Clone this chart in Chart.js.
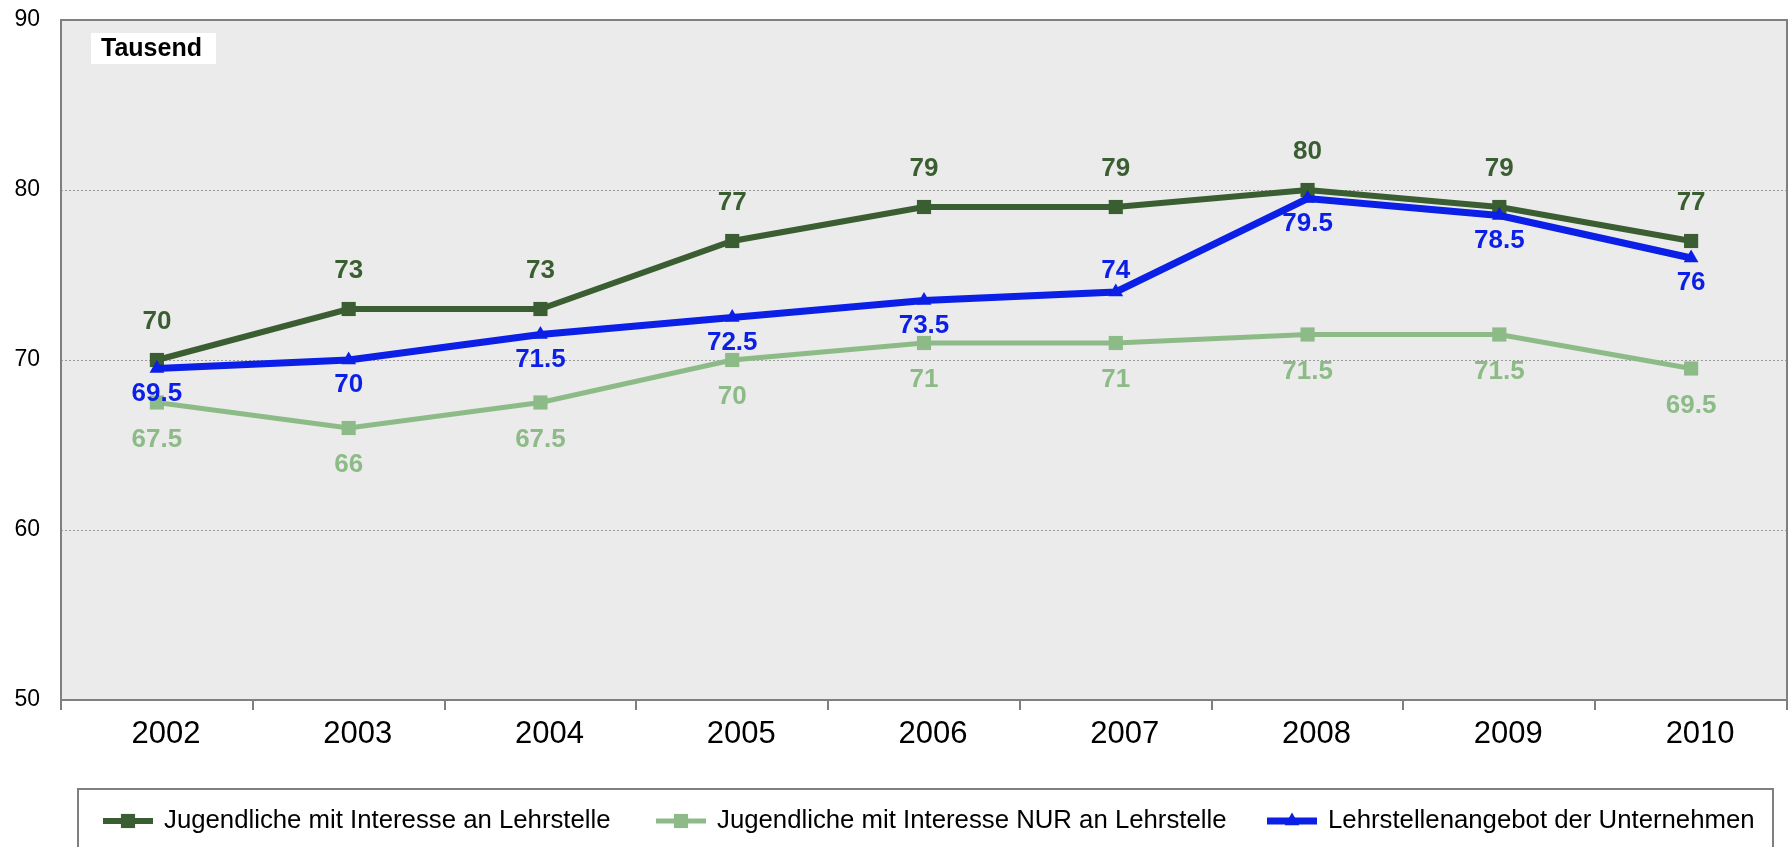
<!DOCTYPE html>
<html>
<head>
<meta charset="utf-8">
<script src="https://cdn.jsdelivr.net/npm/chart.js@4/dist/chart.umd.min.js"></script>
<style>
  html, body { margin: 0; padding: 0; background: #fff; }
  canvas { display: block; }
</style>
</head>
<body>
<canvas id="grafico" width="1790" height="847"></canvas>
<script>
const jahre = ['2002', '2003', '2004', '2005', '2006', '2007', '2008', '2009', '2010'];
const interesse = [70, 73, 73, 77, 79, 79, 80, 79, 77];
const nurLehrstelle = [67.5, 66, 67.5, 70, 71, 71, 71.5, 71.5, 69.5];
const angebot = [69.5, 70, 71.5, 72.5, 73.5, 74, 79.5, 78.5, 76];
const yTicks = [50, 60, 70, 80, 90];

const DUNKEL = '#3a5e32';
const HELL = '#8dbb87';
const BLAU = '#0b1fe6';
const FONT = "'Liberation Sans', Arial, sans-serif";

// hintergrund + rahmen vom plotbereich
const sfondo = {
    id: 'sfondo',
    beforeDraw(chart) {
        const { ctx, chartArea: a } = chart;
        ctx.save();
        ctx.fillStyle = '#ebebeb';
        ctx.fillRect(a.left, a.top, a.right - a.left, a.bottom - a.top);
        ctx.restore();
    },
    beforeDatasetsDraw(chart) {
        const { ctx, chartArea: a } = chart;
        ctx.save();
        ctx.strokeStyle = '#7f7f7f';
        ctx.lineWidth = 2;
        ctx.strokeRect(a.left, a.top, a.right - a.left, a.bottom - a.top);
        // Tausend
        ctx.fillStyle = '#ffffff';
        ctx.fillRect(a.left + 30, a.top + 13, 125, 31);
        ctx.fillStyle = '#000';
        ctx.font = 'bold 25px ' + FONT;
        ctx.textBaseline = 'middle';
        ctx.fillText('Tausend', a.left + 40, a.top + 29);
        ctx.restore();
    }
};

// werte an den punkten
const etichette = {
    id: 'etichette',
    afterDatasetsDraw(chart) {
        const { ctx } = chart;
        ctx.save();
        ctx.font = 'bold 26px ' + FONT;
        ctx.textAlign = 'center';
        ctx.textBaseline = 'middle';
        chart.data.datasets.forEach((ds, i) => {
            const meta = chart.getDatasetMeta(i);
            ctx.fillStyle = ds.borderColor;
            meta.data.forEach((p, j) => {
                let dy = ds.labelDy;
                if (ds.labelAbove && ds.labelAbove.includes(j)) dy = -21;
                ctx.fillText(String(ds.data[j]), p.x, p.y + dy);
            });
        });
        ctx.restore();
    }
};

// legende unten mit rahmen
const legenda = {
    id: 'legenda',
    afterDraw(chart) {
        const { ctx } = chart;
        ctx.save();
        ctx.strokeStyle = '#7f7f7f';
        ctx.lineWidth = 2;
        ctx.strokeRect(78, 789, 1695, 80);
        ctx.font = '25px ' + FONT;
        ctx.textBaseline = 'middle';
        const startX = [103, 656, 1267];
        chart.data.datasets.forEach((ds, i) => {
            const x = startX[i], y = 821;
            ctx.strokeStyle = ds.borderColor;
            ctx.lineWidth = ds.borderWidth;
            ctx.beginPath();
            ctx.moveTo(x, y);
            ctx.lineTo(x + 50, y);
            ctx.stroke();
            ctx.fillStyle = ds.borderColor;
            Chart.helpers.drawPoint(ctx, {
                pointStyle: ds.pointStyle, radius: ds.pointRadius, borderWidth: 0
            }, x + 25, y);
            ctx.fillStyle = '#000';
            ctx.save();
            ctx.translate(x + 61, y);
            ctx.scale(1.03, 1);
            ctx.fillText(ds.label, 0, 0);
            ctx.restore();
        });
        ctx.restore();
    }
};

const ctx = document.getElementById('grafico');

new Chart(ctx, {
    type: 'line',
    data: {
        labels: jahre,
        datasets: [
            {
                label: 'Jugendliche mit Interesse an Lehrstelle',
                data: interesse,
                borderColor: DUNKEL,
                backgroundColor: DUNKEL,
                borderWidth: 6,
                pointStyle: 'rect',
                pointRadius: 10,
                pointBorderWidth: 0,
                labelDy: -38,
                order: 1
            },
            {
                label: 'Jugendliche mit Interesse NUR an Lehrstelle',
                data: nurLehrstelle,
                borderColor: HELL,
                backgroundColor: HELL,
                borderWidth: 5,
                pointStyle: 'rect',
                pointRadius: 10,
                pointBorderWidth: 0,
                labelDy: 37,
                order: 2
            },
            {
                label: 'Lehrstellenangebot der Unternehmen',
                data: angebot,
                borderColor: BLAU,
                backgroundColor: BLAU,
                borderWidth: 7,
                pointStyle: 'triangle',
                pointRadius: 8.5,
                pointBorderWidth: 0,
                labelDy: 25,
                labelAbove: [5],
                order: 0
            }
        ]
    },
    options: {
        responsive: false,
        animation: false,
        layout: { autoPadding: false, padding: { left: 0, top: 20, right: 3, bottom: 97 } },
        plugins: {
            legend: { display: false },
            tooltip: { enabled: false }
        },
        scales: {
            x: {
                offset: true,
                afterFit: (s) => { s.height = 50; s.paddingLeft = 0; s.paddingRight = 0; },
                border: { display: false },
                grid: {
                    offset: true,
                    drawOnChartArea: false,
                    drawTicks: true,
                    tickLength: 10,
                    color: '#7f7f7f',
                    lineWidth: 2
                },
                ticks: {
                    color: '#000',
                    padding: 6,
                    labelOffset: 9,
                    font: { family: FONT, size: 31 }
                }
            },
            y: {
                min: yTicks[0],
                max: yTicks[yTicks.length - 1],
                afterFit: (s) => { s.width = 61; s.paddingTop = 0; s.paddingBottom = 0; },
                afterBuildTicks: (s) => { s.ticks = yTicks.map(v => ({ value: v })); },
                border: { display: false, dash: [2, 2] },
                grid: {
                    drawTicks: false,
                    color: (c) => (c.tick && (c.tick.value === 50 || c.tick.value === 90)) ? 'rgba(0,0,0,0)' : '#9a9a9a',
                    lineWidth: 1
                },
                ticks: {
                    color: '#000',
                    padding: 21,
                    font: { family: FONT, size: 23 }
                }
            }
        }
    },
    plugins: [sfondo, etichette, legenda]
});
</script>
</body>
</html>
